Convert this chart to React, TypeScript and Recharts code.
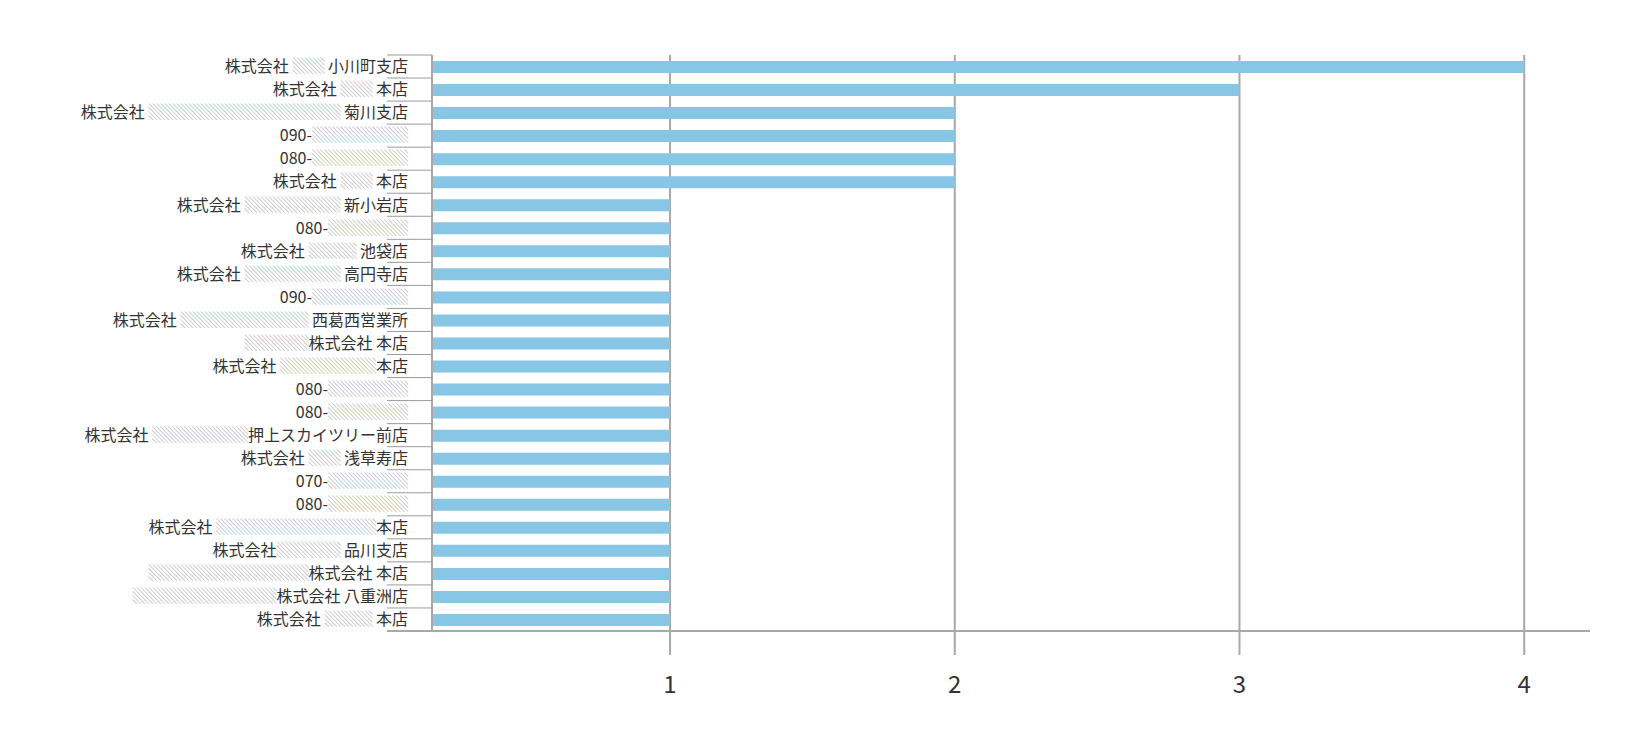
import { BarChart, Bar, XAxis, YAxis, CartesianGrid } from "recharts"

// ▒ marks the pixelated (blurred) parts of the original labels
const shops = [
  "株式会社 ▒▒ 小川町支店",
  "株式会社 ▒▒ 本店",
  "株式会社 ▒▒▒▒▒▒▒▒▒▒▒▒ 菊川支店",
  "090-▒▒▒▒▒▒",
  "080-▒▒▒▒▒▒",
  "株式会社 ▒▒ 本店",
  "株式会社 ▒▒▒▒▒▒ 新小岩店",
  "080-▒▒▒▒▒",
  "株式会社 ▒▒▒ 池袋店",
  "株式会社 ▒▒▒▒▒▒ 高円寺店",
  "090-▒▒▒▒▒▒",
  "株式会社 ▒▒▒▒▒▒▒▒ 西葛西営業所",
  "▒▒▒▒株式会社 本店",
  "株式会社 ▒▒▒▒▒▒本店",
  "080-▒▒▒▒▒",
  "080-▒▒▒▒▒",
  "株式会社 ▒▒▒▒▒▒押上スカイツリー前店",
  "株式会社 ▒▒ 浅草寿店",
  "070-▒▒▒▒▒",
  "080-▒▒▒▒▒",
  "株式会社 ▒▒▒▒▒▒▒▒▒▒本店",
  "株式会社▒▒▒▒ 品川支店",
  "▒▒▒▒▒▒▒▒▒▒株式会社 本店",
  "▒▒▒▒▒▒▒▒▒株式会社 八重洲店",
  "株式会社 ▒▒▒ 本店",
]
const counts = [4, 3, 2, 2, 2, 2, 1, 1, 1, 1, 1, 1, 1, 1, 1, 1, 1, 1, 1, 1, 1, 1, 1, 1, 1]
const xTicks = [1, 2, 3, 4]
const xDomain = [0.164, 4.231]

const data = shops.map((name, i) => ({ name, count: counts[i] }))

const W = 1632
const H = 751
const TOP = 55
const BOTTOM = 631
const AXIS_X = 432
const RIGHT = 1590
const band = (BOTTOM - TOP) / shops.length
const font = '"Noto Sans CJK JP", "Noto Sans", sans-serif'

function ShopTick(props: any) {
  const { y, payload, index } = props
  const parts = String(payload.value).split(/(▒+)/).filter((p) => p !== "")
  return (
    <g>
      <line x1={387} x2={AXIS_X} y1={y - band / 2} y2={y - band / 2} stroke="#9a9a9a" strokeWidth={1} />
      {index === shops.length - 1 && (
        <line x1={387} x2={AXIS_X} y1={y + band / 2} y2={y + band / 2} stroke="#a8a8a8" strokeWidth={2} />
      )}
      <text x={408} y={y} dy="0.36em" textAnchor="end" fontSize={16} fill="#333" fontFamily={font}>
        {parts.map((p, i) =>
          p[0] === "▒" ? (
            <tspan key={i} fill="#b4b4b4">{p}</tspan>
          ) : (
            <tspan key={i}>{p}</tspan>
          )
        )}
      </text>
    </g>
  )
}

function CountTick(props: any) {
  const { x, payload } = props
  return (
    <text x={x} y={693} textAnchor="middle" fontSize={24} fill="#333" fontFamily={font}>
      {payload.value}
    </text>
  )
}

// grid lines only at the value ticks (no border line at the right edge)
function gridX(props: any) {
  const scale = props?.xAxis?.scale
  if (typeof scale === "function") return xTicks.map((t) => scale(t))
  return xTicks.map((t) => AXIS_X + ((t - xDomain[0]) / (xDomain[1] - xDomain[0])) * (RIGHT - AXIS_X))
}

export default function App() {
  return (
    <div style={{ position: "absolute", left: 0, top: 0, width: W, height: H, background: "#fff" }}>
      <BarChart
        width={W}
        height={H}
        data={data}
        layout="vertical"
        margin={{ top: TOP, right: W - RIGHT, bottom: 0, left: 0 }}
      >
        <CartesianGrid horizontal={false} stroke="#a8a8a8" strokeWidth={2} verticalCoordinatesGenerator={gridX} />
        <XAxis
          type="number"
          domain={xDomain}
          ticks={xTicks}
          allowDataOverflow
          axisLine={{ stroke: "#a8a8a8", strokeWidth: 2 }}
          tickLine={{ stroke: "#a8a8a8", strokeWidth: 2 }}
          tickSize={24}
          tick={<CountTick />}
          height={H - BOTTOM}
        />
        <YAxis
          type="category"
          dataKey="name"
          width={AXIS_X}
          interval={0}
          axisLine={{ stroke: "#a8a8a8", strokeWidth: 2 }}
          tickLine={false}
          tick={<ShopTick />}
        />
        <Bar dataKey="count" fill="#87c6e5" barSize={12} isAnimationActive={false} />
      </BarChart>
    </div>
  )
}
